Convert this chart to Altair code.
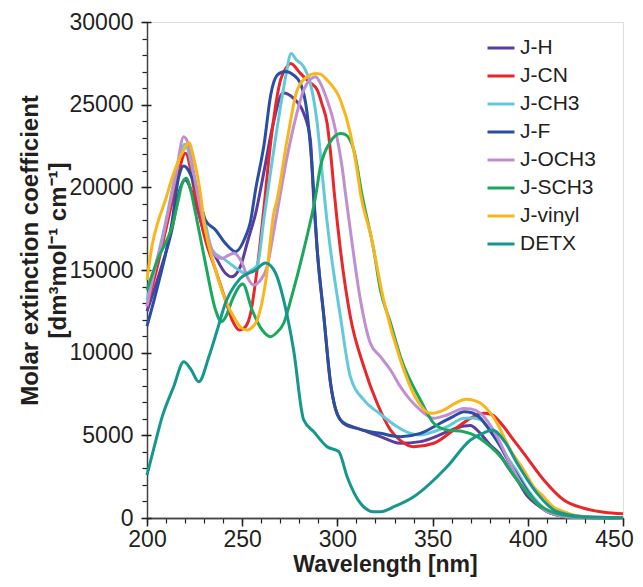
import altair as alt
import pandas as pd

series_names = ["J-H", "J-CN", "J-CH3", "J-F", "J-OCH3", "J-SCH3", "J-vinyl", "DETX"]
series_colors = ["#5a3d9c", "#e8262b", "#62c9da", "#2a4fa2", "#c18ed1", "#1aa85c", "#f8b61c", "#15978f"]

jh_wl = [200, 206, 213, 217.6, 220, 225.5, 230.7, 236, 241.2, 244.5, 249, 253, 257, 262, 266, 271.5, 277, 282.3, 285.8, 287.6, 289.4, 292.9, 296.4, 299, 301.6, 305, 310.4, 316, 322.6, 333, 343.6, 350, 357.6, 366.4, 370, 373.4, 380.4, 385, 390, 394.4, 400, 405, 410, 415.4, 425, 450]
jh_val = [12500, 14600, 17400, 20000, 20440, 19030, 17010, 15800, 14800, 14590, 15200, 16800, 18400, 21300, 23700, 25700, 25380, 24480, 22860, 19200, 16210, 12170, 8150, 6600, 5930, 5600, 5420, 5200, 4920, 4520, 4620, 4850, 5220, 5560, 5600, 5320, 4400, 3900, 3000, 2300, 1300, 800, 400, 180, 40, 0]

jcn_wl = [200, 205, 210, 215, 220.2, 225.5, 230.7, 236, 241.2, 244.7, 248.5, 251.7, 254.4, 258, 261.3, 264.9, 270.1, 273.6, 275.4, 280.6, 285, 289.4, 292, 294.6, 296.5, 298.5, 301.6, 306.8, 313.9, 320.9, 327.9, 333, 340.1, 350.6, 361.1, 369.8, 376.9, 381, 387.4, 392, 397.9, 408.4, 418.9, 429.4, 440, 450]
jcn_val = [12800, 15000, 17500, 20000, 22060, 19430, 16810, 15000, 13180, 11980, 11370, 11570, 12380, 15200, 18630, 22660, 26490, 27300, 27490, 26890, 26400, 25890, 25000, 23870, 22000, 19500, 16210, 12170, 9150, 6940, 5320, 4700, 4310, 4520, 5320, 6030, 6330, 6250, 5520, 4800, 3910, 2300, 1090, 590, 350, 250]

jch3_wl = [200, 205, 210, 215, 219.8, 225.5, 230.7, 234.2, 241.2, 248.2, 251.7, 255, 258, 261.3, 265, 270.1, 273, 275.7, 278.5, 282.3, 285.8, 289.4, 292, 294.5, 296.4, 301.6, 306.8, 313.9, 322.6, 331.4, 338.3, 343.6, 350, 357.6, 366.4, 371, 375.2, 383.9, 388, 394.4, 400, 404.9, 410, 415.4, 425, 450]
jch3_val = [13200, 15500, 18000, 20800, 22600, 20300, 17800, 16210, 15600, 15000, 14800, 15000, 15300, 18000, 21000, 24880, 26800, 28100, 27700, 27290, 26290, 23870, 20850, 18000, 16210, 12170, 8550, 7140, 6280, 5520, 5120, 5020, 5200, 5520, 6030, 6050, 5930, 4720, 3900, 2800, 1700, 1000, 450, 180, 40, 0]

jf_wl = [200, 206, 213, 216.7, 219.3, 225.5, 230.7, 236, 241.2, 246.5, 251.7, 254.3, 257, 261.5, 265, 268.5, 272.5, 277, 280.6, 284.1, 286.5, 289.4, 292.9, 296.4, 299, 301.6, 306, 310.4, 316, 322.6, 333, 343.6, 354, 361, 366.4, 371, 375.2, 380, 385.7, 390, 394.4, 400, 404.9, 410, 415.4, 425, 450]
jf_val = [11600, 14200, 17800, 20640, 21290, 20040, 18020, 17420, 16610, 16110, 17010, 17900, 19840, 22600, 25600, 26800, 27000, 26790, 26290, 24480, 21500, 16210, 12170, 8150, 6600, 5930, 5600, 5420, 5250, 5120, 4920, 5120, 5730, 6150, 6430, 6350, 6030, 5300, 4310, 3400, 2600, 1600, 900, 400, 180, 40, 0]

joch3_wl = [200, 204, 208, 212, 215, 219.3, 222, 225.5, 230.7, 234.9, 239.3, 243, 245.6, 250, 253, 256, 259.6, 263.1, 266.5, 270.1, 273.5, 277, 282.3, 285.5, 288.5, 291.5, 294.6, 297.5, 299.8, 302.5, 304.5, 306.8, 312.1, 317.3, 322.6, 327.9, 333.1, 343.6, 350.6, 357.6, 366.4, 370, 375.2, 383.9, 389, 394.4, 400, 404.9, 410, 415.4, 425, 450]
joch3_val = [12800, 15000, 16810, 19000, 20640, 23060, 22500, 20240, 17420, 16010, 15700, 15900, 16010, 15400, 14500, 14090, 14390, 15200, 17300, 19640, 21800, 23670, 25890, 26500, 26690, 26200, 25280, 24200, 23000, 21200, 19400, 17400, 13180, 10570, 9760, 8950, 7940, 6530, 6030, 6230, 6630, 6600, 6330, 4920, 3700, 2500, 1500, 890, 400, 180, 40, 0]

jsch3_wl = [200, 206.2, 210, 213.2, 216, 218.5, 220.6, 223, 225.5, 230.7, 236, 239.1, 241.5, 244.7, 250.3, 255.2, 260.5, 264.9, 268, 271.8, 276, 282.3, 288.5, 291.1, 296, 301.6, 304, 308.6, 313, 319.1, 322.6, 327.9, 333.1, 343.6, 350.6, 357.6, 366.4, 373.4, 380.4, 385.7, 394.4, 404.9, 418.9, 430, 450]
jsch3_val = [13790, 15800, 16700, 17620, 19000, 20240, 20550, 19800, 18430, 15400, 12580, 11870, 12200, 13180, 14150, 12580, 11370, 10970, 11200, 11780, 13400, 16210, 19430, 21250, 22700, 23260, 23200, 22260, 19500, 16210, 13800, 11800, 9760, 7140, 5730, 5320, 5220, 4920, 4310, 3710, 2300, 890, 180, 40, 0]

jvinyl_wl = [200, 202.7, 206, 209.7, 213, 216.7, 220, 222, 224.5, 227.2, 230.7, 236, 241.2, 246.5, 249.5, 252.6, 255, 257.9, 262.2, 266.6, 268.3, 273.6, 278.9, 284.1, 288.5, 291, 294.6, 301.6, 306.8, 310.4, 312.1, 317.3, 324.3, 333.1, 341.8, 348.8, 355.8, 362, 367.5, 372, 375.2, 380, 383.9, 387.4, 392, 397.9, 403, 408.4, 413, 418.9, 428, 450]
jvinyl_val = [14400, 16500, 18000, 19230, 20500, 21650, 22400, 22700, 21800, 20240, 17420, 15000, 13180, 11980, 11500, 11370, 11500, 11980, 14190, 18430, 19230, 22860, 25890, 26690, 26890, 26850, 26490, 25280, 23260, 21000, 19640, 17220, 13180, 9560, 7140, 6330, 6530, 6950, 7180, 7100, 6940, 6400, 5730, 4920, 3900, 2900, 1900, 1290, 700, 380, 100, 0]

detx_wl = [200, 204, 208, 214, 219.3, 223, 227.2, 232.5, 236.9, 241.2, 248.2, 257, 262.2, 267.5, 271.8, 277, 282.3, 287.6, 294.6, 300.7, 305.1, 312.1, 319.1, 322.6, 330, 340.1, 357.6, 369.9, 376, 381.5, 388, 394.4, 404.9, 415.4, 429.4, 450]
detx_val = [2600, 4400, 6130, 7940, 9450, 9000, 8240, 9750, 11370, 13000, 14390, 15000, 15420, 14820, 13180, 10160, 5930, 5220, 4310, 4010, 2500, 890, 380, 380, 700, 1290, 3100, 4720, 5100, 5300, 4600, 3310, 1490, 380, 80, 20]

all_wl = [jh_wl, jcn_wl, jch3_wl, jf_wl, joch3_wl, jsch3_wl, jvinyl_wl, detx_wl]
all_val = [jh_val, jcn_val, jch3_val, jf_val, joch3_val, jsch3_val, jvinyl_val, detx_val]

x_major = [200, 250, 300, 350, 400, 450]
x_minor = list(range(200, 451, 10))
y_major = [0, 5000, 10000, 15000, 20000, 25000, 30000]
y_minor = list(range(0, 30001, 1000))

rows = []
for name, wls, vals in zip(series_names, all_wl, all_val):
    for w, v in zip(wls, vals):
        rows.append({"series": name, "wl": w, "eps": v})
df = pd.DataFrame(rows)

FONT = "Liberation Sans"
AX = "#231f20"

xscale = alt.Scale(domain=[200, 450], nice=False, zero=False)
yscale = alt.Scale(domain=[0, 30000], nice=False, zero=False)

lines = alt.Chart(df).mark_line(strokeWidth=3, interpolate="monotone").encode(
    x=alt.X("wl:Q", scale=xscale, axis=alt.Axis(
        orient="bottom", values=x_major, format="d", tickSize=8, tickColor=AX, tickWidth=1.5,
        domain=True, domainColor="#444444", domainWidth=1.5,
        labelFont=FONT, labelFontSize=23, labelColor=AX, labelPadding=2, grid=False,
        labelFlush=False, labelOverlap=False, labelBound=False,
        labelOffset={"condition": {"test": "datum.value == 450", "value": -9}, "value": 0},
        title="Wavelength [nm]", titleFont=FONT, titleFontSize=23, titleFontWeight="bold",
        titleColor=AX, titleY=35)),
    y=alt.Y("eps:Q", scale=yscale, axis=alt.Axis(
        orient="left", values=y_major, format="d", tickSize=10, offset=-4, tickColor=AX, tickWidth=1.5,
        domain=False, labelFont=FONT, labelFontSize=23, labelColor=AX, labelPadding=8, grid=False,
        labelFlush=False, labelOverlap=False, labelBound=False,
        title=["Molar extinction coefficient", "[dm³mol⁻¹ cm⁻¹]"], titleFont=FONT, titleFontSize=24,
        titleFontWeight="bold", titleColor=AX, titleLineHeight=28, titleX=-109, titleY=228)),
    color=alt.Color("series:N", sort=series_names,
                    scale=alt.Scale(domain=series_names, range=series_colors),
                    legend=alt.Legend(orient="none", legendX=339, legendY=11, title=None,
                                      symbolType="stroke", symbolSize=729, symbolStrokeWidth=3,
                                      labelFont=FONT, labelFontSize=21, labelColor=AX,
                                      labelOffset=4, rowPadding=3, padding=0)),
    detail="series:N",
)

minor = alt.Chart(df).mark_point(opacity=0).encode(
    x=alt.X("wl:Q", scale=xscale, axis=alt.Axis(
        orient="bottom", values=x_minor, tickSize=5, tickColor=AX, tickWidth=1.2,
        labels=False, domain=True, domainColor="#444444", domainWidth=1.5, grid=False, title=None)),
    y=alt.Y("eps:Q", scale=yscale, axis=alt.Axis(
        orient="left", values=y_minor, tickSize=5, tickColor=AX, tickWidth=1.2,
        labels=False, domain=True, domainColor="#444444", domainWidth=1.5, grid=False, title=None)),
)

chart = alt.layer(minor, lines).resolve_scale(x="independent", y="independent").properties(
    width=476, height=496,
    autosize=alt.AutoSizeParams(type="none"),
    padding={"left": 139, "top": 14, "right": 12, "bottom": 61},
).configure_view(stroke="#444444", strokeWidth=1.5).configure(background="white")

chart.save("out.html", embed_options={"renderer": "svg", "actions": False})
